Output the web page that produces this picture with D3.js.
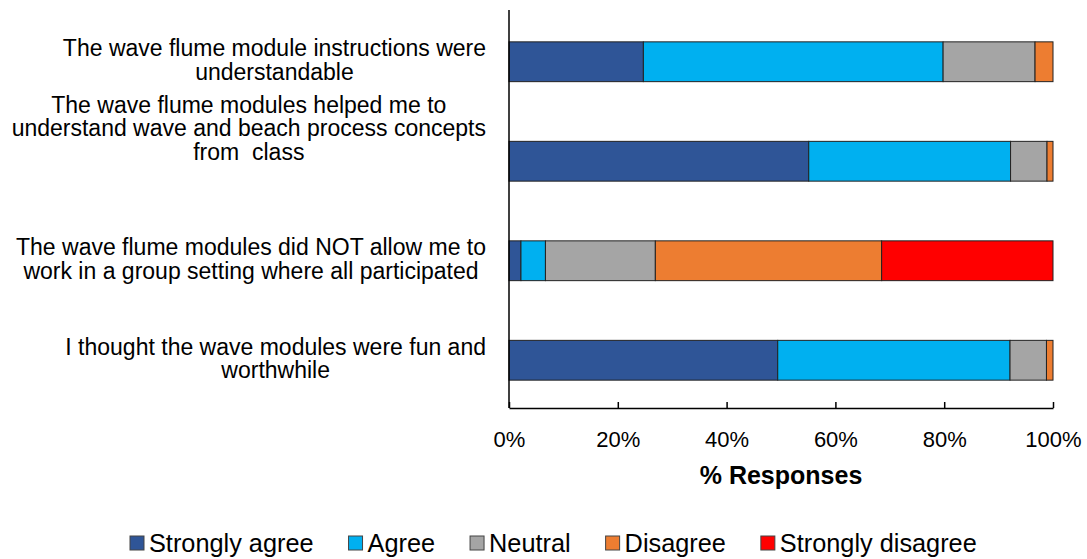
<!DOCTYPE html>
<meta charset="utf-8">
<style>
body {
  margin: 0;
  background: #fff;
  font-family: 'Liberation Sans', Arial, sans-serif;
}
svg {
  display: block;
}
.axis path, .axis line {
  stroke: #000;
  stroke-width: 1.5;
}
.axis text {
  font-size: 22px;
  fill: #000;
  font-family: 'Liberation Sans', Arial, sans-serif;
}
text.cat {
  font-size: 23px;
  fill: #000;
  white-space: pre;
}
text.title {
  font-size: 25px;
  font-weight: 700;
}
text.legend {
  font-size: 25.3px;
}
</style>
<body>
<svg width="1087" height="559"></svg>
<script src="https://d3js.org/d3.v7.min.js"></script>
<script>

const questions = [
  ['The wave flume module instructions were', 'understandable'],
  ['The wave flume modules helped me to', 'understand wave and beach process concepts', 'from  class'],
  ['The wave flume modules did NOT allow me to', 'work in a group setting where all participated'],
  ['I thought the wave modules were fun and', 'worthwhile']
];
const responses = ['Strongly agree', 'Agree', 'Neutral', 'Disagree', 'Strongly disagree'];
const colors = ['#2F5597', '#00B0F0', '#A5A5A5', '#ED7D31', '#FF0000'];

// % of responses per question, in the order of `responses`
const stronglyAgree    = [24.7, 55.1, 2.2, 49.4];
const agree            = [55.1, 37.1, 4.5, 42.7];
const neutral          = [16.9, 6.7, 20.2, 6.7];
const disagree         = [3.3, 1.1, 41.6, 1.2];
const stronglyDisagree = [0, 0, 31.5, 0];

const xTicks = [0, 20, 40, 60, 80, 100];

const series = [stronglyAgree, agree, neutral, disagree, stronglyDisagree];
const rows = questions.map((q, i) => {
  const r = { idx: i };
  responses.forEach((k, j) => r[k] = series[j][i]);
  return r;
});

const svg = d3.select('svg');

const x = d3.scaleLinear().domain([0, 100]).range([509, 1053]);
const y = d3.scaleBand()
  .domain(d3.range(questions.length))
  .range([12, 410])
  .paddingInner(0.6)
  .paddingOuter(0.3);

const color = d3.scaleOrdinal().domain(responses).range(colors);

const stacked = d3.stack().keys(responses)(rows);

// bars
svg.append('g')
  .selectAll('g')
  .data(stacked)
  .join('g')
    .attr('fill', d => color(d.key))
  .selectAll('rect')
  .data(d => d.filter(s => s[1] - s[0] > 0))
  .join('rect')
    .attr('x', d => x(d[0]))
    .attr('y', d => y(d.data.idx))
    .attr('width', d => x(d[1]) - x(d[0]))
    .attr('height', y.bandwidth())
    .attr('stroke', '#222')
    .attr('stroke-width', 1);

// x axis
svg.append('g')
  .attr('class', 'axis')
  .attr('transform', 'translate(0,408)')
  .call(d3.axisBottom(x)
    .tickValues(xTicks)
    .tickFormat(d => d + '%')
    .tickSizeInner(-6)
    .tickSizeOuter(0)
    .tickPadding(23));

// y axis line
svg.append('g')
  .attr('class', 'axis')
  .attr('transform', 'translate(509,0)')
  .call(d3.axisLeft(y).tickSize(0).tickFormat(''))
  .call(g => g.select('.domain').attr('d', 'M0,10V408'));

// category labels, each block centred and right-aligned to the axis
// (the three-line label sits higher than its bar, as in the original)
const lineH = 23.5;
const blockShift = [0, -31, 0, 0];
questions.forEach((lines, i) => {
  const g = svg.append('g');
  const texts = g.selectAll('text')
    .data(lines)
    .join('text')
      .attr('class', 'cat')
      .attr('text-anchor', 'middle')
      .text(d => d);
  const w = d3.max(texts.nodes(), n => n.getComputedTextLength());
  const cx = 486 - w / 2;
  const cy = y(i) + y.bandwidth() / 2 + blockShift[i];
  const y0 = cy - (lines.length - 1) * lineH / 2 + 6;
  texts.attr('x', cx).attr('y', (d, k) => y0 + k * lineH);
});

// axis title
svg.append('text')
  .attr('class', 'title')
  .attr('x', x(50))
  .attr('y', 484)
  .attr('text-anchor', 'middle')
  .text('% Responses');

// legend
const legend = svg.append('g');
let lx = 130;
responses.forEach((k, i) => {
  legend.append('rect')
    .attr('x', lx)
    .attr('y', 536)
    .attr('width', 14)
    .attr('height', 14)
    .attr('fill', color(k))
    .attr('stroke', '#444')
    .attr('stroke-width', 1);
  const t = legend.append('text')
    .attr('class', 'legend')
    .attr('x', lx + 19)
    .attr('y', 552)
    .text(k);
  lx += 19 + t.node().getComputedTextLength() + 35;
});

</script>
</body>
